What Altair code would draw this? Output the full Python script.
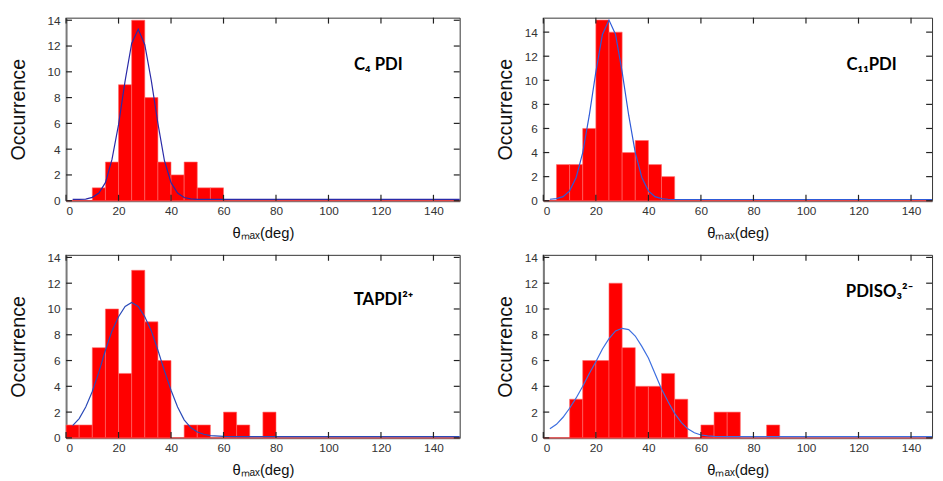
import altair as alt
import pandas as pd

# ---------------- data ----------------
BIN_W = 5
x_ticks = [0, 20, 40, 60, 80, 100, 120, 140]
y_ticks = [0, 2, 4, 6, 8, 10, 12, 14]

c4_starts = [10, 15, 20, 25, 30, 35, 40, 45, 50, 55]
c4_counts = [1, 3, 9, 14, 8, 3, 2, 3, 1, 1]
c4_fit_x = [2.5, 5, 7.5, 10, 12.5, 15, 17.5, 20, 22.5, 25, 27.5, 30, 32.5, 35, 37.5, 40, 42.5, 45, 47.5, 50, 150]
c4_fit_y = [0.1, 0.1, 0.12, 0.26, 0.6, 1.4, 3.2, 5.9, 9.3, 12.2, 13.3, 12.1, 9.3, 6.0, 3.1, 1.4, 0.6, 0.25, 0.14, 0.1, 0.1]

c11_starts = [5, 10, 15, 20, 25, 30, 35, 40, 45]
c11_counts = [3, 3, 6, 15, 14, 4, 5, 3, 2]
c11_fit_x = [2.5, 5, 7.5, 10, 12.5, 15, 17.5, 20, 22.5, 25, 27.5, 30, 32.5, 35, 37.5, 40, 42.5, 45, 47.5, 50, 148]
c11_fit_y = [0.12, 0.17, 0.34, 0.82, 1.93, 4.0, 7.1, 10.7, 13.8, 15.0, 13.8, 10.7, 7.1, 4.0, 1.93, 0.82, 0.34, 0.17, 0.12, 0.1, 0.1]

tap_starts = [0, 5, 10, 15, 20, 25, 30, 35, 45, 50, 60, 65, 75]
tap_counts = [1, 1, 7, 10, 5, 13, 9, 6, 1, 1, 2, 1, 2]
tap_fit_x = [2.5, 5, 7.5, 10, 12.5, 15, 17.5, 20, 22.5, 25, 27.5, 30, 32.5, 35, 37.5, 40, 42.5, 45, 47.5, 50, 52.5, 55, 60, 65, 150]
tap_fit_y = [0.95, 1.5, 2.4, 3.6, 5.1, 6.8, 8.3, 9.4, 10.2, 10.5, 10.2, 9.4, 8.3, 6.8, 5.2, 3.7, 2.4, 1.4, 0.8, 0.45, 0.28, 0.18, 0.12, 0.1, 0.1]

pdi_starts = [10, 15, 20, 25, 30, 35, 40, 45, 50, 60, 65, 70, 85]
pdi_counts = [3, 6, 6, 12, 7, 4, 4, 5, 3, 1, 2, 2, 1]
pdi_fit_x = [2.5, 5, 7.5, 10, 12.5, 15, 17.5, 20, 22.5, 25, 27.5, 30, 32.5, 35, 37.5, 40, 42.5, 45, 47.5, 50, 52.5, 55, 57.5, 60, 62.5, 65, 70, 148]
pdi_fit_y = [0.7, 1.05, 1.6, 2.3, 3.1, 4.0, 5.0, 5.9, 6.9, 7.7, 8.3, 8.5, 8.4, 7.9, 7.1, 6.2, 5.0, 3.8, 2.8, 1.9, 1.2, 0.7, 0.4, 0.22, 0.15, 0.12, 0.1, 0.1]

labels = ["C\u2084 PDI", "C\u2081\u2081PDI", "TAPDI\u00b2\u207a", "PDISO\u2083\u00b2\u207b"]
label_x = [119, 125, 121, 128]
label_y = [10.5, 11.3, 10.7, 11.3]

X_TITLE = "\u03b8\u2098\u2090\u2093(deg)"
Y_TITLE = "Occurrence"
FONT = "Liberation Sans"


def panel(starts, counts, fx, fy, label, lx, ly, xmax, ymax, curve_color, title_pad, width):
    xs = alt.Scale(domain=[0, xmax], nice=False, zero=False)
    ys = alt.Scale(domain=[0, ymax], nice=False, zero=False)
    x_axis = alt.Axis(values=x_ticks, title=X_TITLE, titleFontSize=15, titlePadding=9,
                      labelPadding=5, format="d", labelOverlap=False)
    y_axis = alt.Axis(values=y_ticks, title=Y_TITLE, titleFontSize=20, titlePadding=title_pad,
                      labelPadding=6, format="d", labelOverlap=False)

    def X(f):
        return alt.X(f, scale=xs, axis=x_axis)

    def Y(f):
        return alt.Y(f, scale=ys, axis=y_axis)

    def XD(v):
        return alt.XDatum(v, scale=xs, axis=x_axis)

    def YD(v):
        return alt.YDatum(v, scale=ys, axis=y_axis)

    bars_df = pd.DataFrame({"start": starts, "count": counts})
    bars_df["end"] = bars_df["start"] + BIN_W
    bars = alt.Chart(bars_df).mark_rect(color="#ff0000", stroke="#ff6a6a", strokeWidth=0.6).encode(
        x=X("start:Q"), x2="end:Q", y=Y("count:Q"), y2=alt.datum(0),
    )

    one = alt.Data(values=[{"a": 0}])
    base_line = alt.Chart(one).mark_rule(color="#ff3030", strokeWidth=1).encode(
        x=XD(0), x2=alt.datum(xmax), y=YD(0)
    )

    fit_df = pd.DataFrame({"x": fx, "y": fy})
    curve = alt.Chart(fit_df).mark_line(color=curve_color, strokeWidth=1.2).encode(
        x=X("x:Q"), y=Y("y:Q")
    )

    xt = pd.DataFrame({"xv": x_ticks})
    yt = pd.DataFrame({"yv": y_ticks})
    tc = "#222222"
    top_t = alt.Chart(xt).mark_rule(color=tc, strokeWidth=1.2, y2Offset=6).encode(
        x=X("xv:Q"), y=YD(ymax), y2=alt.datum(ymax))
    bot_t = alt.Chart(xt).mark_rule(color=tc, strokeWidth=1.2, y2Offset=-6).encode(
        x=X("xv:Q"), y=YD(0), y2=alt.datum(0))
    left_t = alt.Chart(yt).mark_rule(color=tc, strokeWidth=1.2, x2Offset=6).encode(
        y=Y("yv:Q"), x=XD(0), x2=alt.datum(0))
    right_t = alt.Chart(yt).mark_rule(color=tc, strokeWidth=1.2, x2Offset=-6).encode(
        y=Y("yv:Q"), x=XD(xmax), x2=alt.datum(xmax))

    txt_df = pd.DataFrame({"t": [label], "x": [lx], "y": [ly]})
    text = alt.Chart(txt_df).mark_text(font="Lato, Noto Sans, DejaVu Sans", fontSize=17,
                                       fontWeight="bold", color="#000000",
                                       align="center", baseline="middle").encode(
        x=X("x:Q"), y=Y("y:Q"), text="t:N")

    return alt.layer(bars, base_line, curve, top_t, bot_t, left_t, right_t, text).properties(
        width=width, height=186)


p1 = panel(c4_starts, c4_counts, c4_fit_x, c4_fit_y, labels[0], label_x[0], label_y[0],
           150, 14.2, "#2a2aa8", 19, 400)
p2 = panel(c11_starts, c11_counts, c11_fit_x, c11_fit_y, labels[1], label_x[1], label_y[1],
           148, 15.2, "#2e5ad8", 9, 395)
p3 = panel(tap_starts, tap_counts, tap_fit_x, tap_fit_y, labels[2], label_x[2], label_y[2],
           150, 14.2, "#2a4ab8", 19, 400)
p4 = panel(pdi_starts, pdi_counts, pdi_fit_x, pdi_fit_y, labels[3], label_x[3], label_y[3],
           148, 14.2, "#3d6fe0", 9, 395)

chart = alt.vconcat(
    alt.hconcat(p1, p2, spacing=33),
    alt.hconcat(p3, p4, spacing=33),
    spacing=10,
).properties(
    padding={"left": 0, "top": 2, "right": 0, "bottom": 0}
).configure_axis(
    grid=False, labelFont=FONT, titleFont=FONT, labelFontSize=12, labelColor="#333333",
    titleColor="#111111", titleFontWeight="normal", tickSize=0, ticks=False,
    domainColor="#7a7a7a", domainWidth=2
).configure_view(
    stroke="#333333", strokeWidth=1
)

chart.save("out.html", embed_options={"renderer": "svg", "actions": False})
